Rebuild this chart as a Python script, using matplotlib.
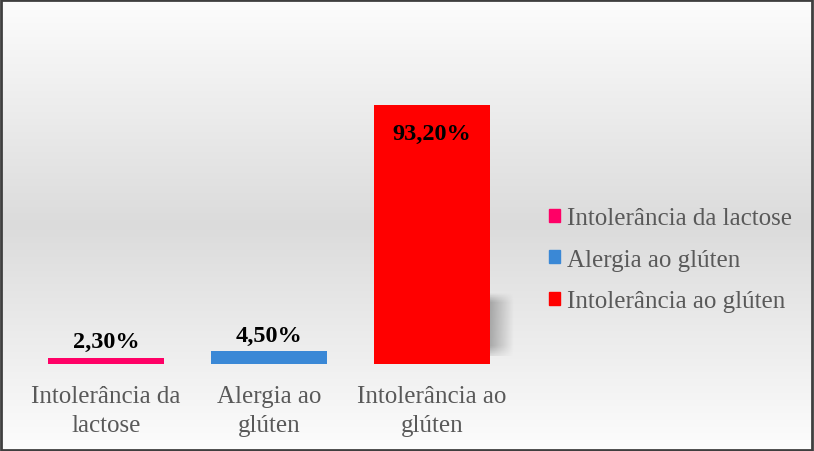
import numpy as np
import matplotlib.pyplot as plt
from matplotlib.patches import Rectangle

categorias = ["Intolerância da\nlactose", "Alergia ao\nglúten", "Intolerância ao\nglúten"]
legenda = ["Intolerância da lactose", "Alergia ao glúten", "Intolerância ao glúten"]
valores = [2.3, 4.5, 93.2]
rotulos = ["2,30%", "4,50%", "93,20%"]
cores = ["#FF0066", "#3A88D6", "#FF0000"]

plt.rcParams['font.family'] = ['Liberation Serif', 'DejaVu Serif']

fig = plt.figure(figsize=(8.14, 4.52), dpi=100)

# fundo em degrade
bg = fig.add_axes([0, 0, 1, 1], zorder=-10)
t = np.linspace(0, 1, 256)
g = np.interp(t, [0, 0.5, 1], [0.99, 0.86, 0.99])
img = np.dstack([g[:, None], g[:, None], g[:, None]])
bg.imshow(img, aspect='auto', extent=[0, 1, 0, 1])
bg.set_axis_off()
fig.patches.append(Rectangle((0.001, 0.002), 0.997, 0.995, transform=fig.transFigure,
                             fill=False, edgecolor="#3f3f3f", linewidth=2))

ax = fig.add_axes([0.030, 0.1925, 0.601, 0.615])
ax.patch.set_alpha(0)
x = np.arange(len(valores))
ax.bar(x, valores, width=0.71, color=cores, label=legenda, zorder=3)

# sombra suave da barra maior
sombra = np.zeros((40, 40, 4))
sx = np.linspace(1, 0, 40)
sy = np.interp(np.linspace(0, 1, 40), [0, 0.15, 0.85, 1], [0, 1, 1, 0.3])
sombra[..., :3] = 0.45
sombra[..., 3] = 0.55 * sy[:, None] * sx[None, :]
ax.imshow(sombra, extent=[2.355, 2.5, 3, 26], aspect='auto', zorder=2)

ax.set_xlim(-0.5, 2.5)
ax.set_ylim(0, 100)
for s in ax.spines.values():
    s.set_visible(False)
ax.set_yticks([])
ax.set_xticks(x)
ax.set_xticklabels(categorias, color="#595959", fontsize=18, linespacing=1.45)
ax.tick_params(axis='x', length=0, pad=15)

for i, (v, r) in enumerate(zip(valores, rotulos)):
    if v > 50:
        ax.text(i, v - 6.5, r, ha='center', va='top', fontsize=17.5, fontweight='bold', zorder=4)
    else:
        ax.text(i, v + 2, r, ha='center', va='bottom', fontsize=17.5, fontweight='bold', zorder=4)

hs = [Rectangle((0, 0), 1, 1, color=c) for c in cores]
fig.legend(hs, legenda, loc='center left', bbox_to_anchor=(0.647, 0.423), frameon=False,
           fontsize=18, labelcolor="#595959", handlelength=0.42, handleheight=0.42,
           handletextpad=0.28, labelspacing=0.78)

fig.savefig("out.png", dpi=100)
